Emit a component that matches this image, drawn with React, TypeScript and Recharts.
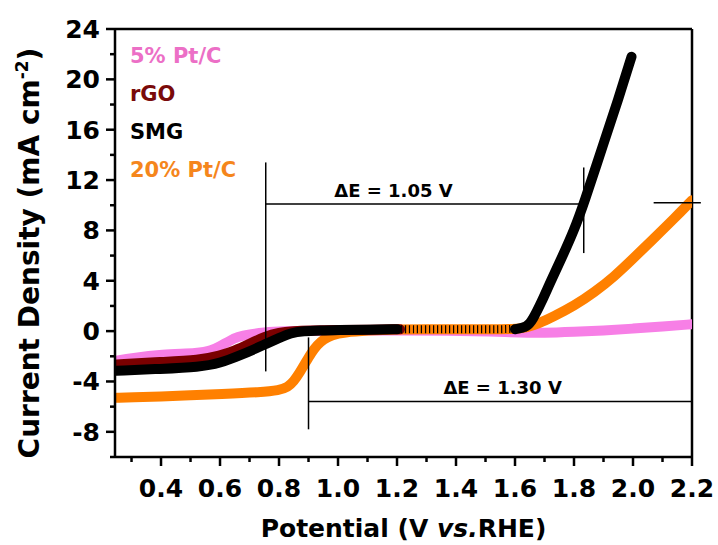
import { LineChart, Line, XAxis, YAxis, ReferenceLine, ReferenceDot } from "recharts";

// potential (V vs. RHE) and current density (mA cm-2)
const pinkV = [0.25, 0.3, 0.4, 0.53, 0.57, 0.6, 0.63, 0.66, 0.7, 0.75, 0.8, 1.0, 1.4, 1.6, 1.7, 1.8, 1.9, 2.0, 2.1, 2.2];
const pinkJ = [-2.35, -2.15, -1.85, -1.75, -1.55, -1.2, -0.8, -0.45, -0.25, -0.1, 0.0, 0.05, 0.05, -0.1, -0.15, -0.05, 0.05, 0.2, 0.35, 0.55];

const rgoV = [0.25, 0.4, 0.53, 0.6, 0.65, 0.7, 0.75, 0.8, 0.85, 0.9, 1.0, 1.1, 1.21];
const rgoJ = [-2.65, -2.45, -2.3, -1.95, -1.55, -1.0, -0.45, -0.1, 0.0, 0.05, 0.1, 0.1, 0.15];

const smgV = [0.25, 0.4, 0.53, 0.6, 0.67, 0.72, 0.757, 0.8, 0.84, 0.88, 0.95, 1.0, 1.1, 1.2, 1.3, 1.4, 1.5, 1.6, 1.64, 1.66, 1.69, 1.72, 1.76, 1.8, 1.833, 1.9, 1.95, 1.995];
const smgJ = [-3.15, -3.0, -2.85, -2.55, -1.9, -1.4, -1.0, -0.55, -0.15, 0.0, 0.05, 0.1, 0.1, 0.15, 0.15, 0.15, 0.15, 0.15, 0.3, 0.9, 2.3, 3.9, 5.9, 8.0, 10.1, 14.9, 18.4, 21.8];

const ptcV = [0.25, 0.3, 0.4, 0.5, 0.6, 0.74, 0.8, 0.83, 0.85, 0.87, 0.89, 0.91, 0.93, 0.95, 0.98, 1.02, 1.1, 1.2, 1.3, 1.4, 1.5, 1.6, 1.64, 1.68, 1.73, 1.8, 1.87, 1.935, 2.0, 2.07, 2.14, 2.2];
const ptcJ = [-5.3, -5.25, -5.2, -5.1, -5.0, -4.85, -4.7, -4.45, -4.0, -3.3, -2.5, -1.7, -1.1, -0.65, -0.3, -0.1, 0.05, 0.15, 0.15, 0.15, 0.15, 0.15, 0.3, 0.6, 1.15, 2.0, 3.1, 4.3, 5.75, 7.35, 8.95, 10.4];

const xMajor = [0.4, 0.6, 0.8, 1.0, 1.2, 1.4, 1.6, 1.8, 2.0, 2.2];
const xMinor = [0.3, 0.5, 0.7, 0.9, 1.1, 1.3, 1.5, 1.7, 1.9, 2.1];
const yMajor = [-8, -4, 0, 4, 8, 12, 16, 20, 24];
const yMinor = [-10, -6, -2, 2, 6, 10, 14, 18, 22];

const legendNames = ["5% Pt/C", "rGO", "SMG", "20% Pt/C"];
const legendColors = ["#ec6fc6", "#7a0a0a", "#000000", "#f5861c"];

// ΔE markers: onset (SMG) -> 10 mA cm-2, half-wave (Pt/C) -> 2.2 V
const dE1 = { label: "\u0394E = 1.05 V", x1: 0.755, x2: 1.833, y: 10.1, top1: 13.4, bot1: -3.2, top2: 13.0, bot2: 6.2, textX: 1.188 };
const dE2 = { label: "\u0394E = 1.30 V", x1: 0.9, x2: 2.2, y: -5.6, top1: -0.5, bot1: -7.8, textX: 1.558 };
const ptcMark = { x1: 2.07, x2: 2.23, y: 10.2 };

const FONT = '"DejaVu Sans", Verdana, sans-serif';

const toRows = (v: number[], j: number[]) => v.map((x, i) => ({ x, y: j[i] }));
const smgRows = toRows(smgV, smgJ);

const isMajorX = (v: number) => xMajor.some((m) => Math.abs(m - v) < 1e-6);

const XTick = ({ x, y, payload }: any) => {
  const major = isMajorX(payload.value);
  return (
    <g>
      <line x1={x} x2={x} y1={y} y2={y + (major ? 9 : 5)} stroke="#000" strokeWidth={2.5} />
      {major && (
        <text x={x} y={y + 40} textAnchor="middle" fontFamily={FONT} fontWeight="bold" fontSize={25} fill="#000">
          {payload.value.toFixed(1)}
        </text>
      )}
    </g>
  );
};

const YTick = ({ x, y, payload }: any) => {
  const major = yMajor.includes(payload.value);
  return (
    <g>
      <line x1={x} x2={x - (major ? 9 : 5)} y1={y} y2={y} stroke="#000" strokeWidth={2.5} />
      {major && (
        <text x={x - 15} y={y + 9} textAnchor="end" fontFamily={FONT} fontWeight="bold" fontSize={25} fill="#000">
          {payload.value}
        </text>
      )}
    </g>
  );
};

const XLabel = ({ viewBox }: any) => (
  <text x={viewBox.x + viewBox.width / 2} y={viewBox.y + 80} textAnchor="middle" fontFamily={FONT} fontWeight="bold" fontSize={25} fill="#000">
    Potential (V <tspan fontStyle="italic">vs.</tspan>RHE)
  </text>
);

const YLabel = ({ viewBox }: any) => {
  const cx = viewBox.x + 39;
  const cy = viewBox.y + viewBox.height / 2 + 10;
  return (
    <text x={cx} y={cy} transform={`rotate(-90 ${cx} ${cy})`} textAnchor="middle" fontFamily={FONT} fontWeight="bold" fontSize={28} fill="#000">
      Current Density (mA cm<tspan dy={-11} fontSize={17}>-2</tspan><tspan dy={11}>)</tspan>
    </text>
  );
};

const lineProps = { type: "basis" as const, dataKey: "y", dot: false, activeDot: false, isAnimationActive: false, strokeLinecap: "round" as any };
const annot = { stroke: "#000", strokeWidth: 1.5, ifOverflow: "visible" as const };
const annotText = { fontFamily: FONT, fontWeight: "bold", fontSize: 18, fill: "#000" };

export default function App() {
  return (
    <div style={{ position: "absolute", left: 0, top: 0, width: 718, height: 545, background: "#fff" }}>
      <LineChart width={718} height={545} margin={{ top: 29, right: 26, bottom: 0, left: 0 }}>
        <XAxis
          type="number"
          dataKey="x"
          domain={[0.244, 2.2]}
          allowDataOverflow
          ticks={[...xMinor, ...xMajor].sort((a, b) => a - b)}
          interval={0}
          tickSize={0}
          tickMargin={0}
          tickLine={false}
          axisLine={{ stroke: "#000", strokeWidth: 2.5 }}
          tick={<XTick />}
          height={88}
          label={{ content: <XLabel /> }}
        />
        <YAxis
          type="number"
          domain={[-10, 24]}
          allowDataOverflow
          ticks={[...yMinor, ...yMajor].sort((a, b) => a - b)}
          interval={0}
          tickSize={0}
          tickMargin={0}
          tickLine={false}
          axisLine={{ stroke: "#000", strokeWidth: 2.5 }}
          tick={<YTick />}
          width={115}
          label={{ content: <YLabel /> }}
        />
        <ReferenceLine y={24} stroke="#000" strokeWidth={2.5} />
        <ReferenceLine x={2.2} stroke="#000" strokeWidth={2.5} />

        <Line {...lineProps} data={toRows(pinkV, pinkJ)} stroke="#f77fe6" strokeWidth={10} />
        <Line {...lineProps} data={toRows(ptcV, ptcJ)} stroke="#ff8000" strokeWidth={10} />
        <Line {...lineProps} data={toRows(rgoV, rgoJ)} stroke="#7a0000" strokeWidth={10} />
        <Line {...lineProps} data={smgRows.filter((p) => p.x <= 1.2)} stroke="#000" strokeWidth={10} />
        <Line {...lineProps} data={smgRows.filter((p) => p.x >= 1.2 && p.x <= 1.64)} stroke="#000" strokeWidth={8} strokeLinecap="butt" strokeDasharray="1.2 2.8" />
        <Line {...lineProps} data={smgRows.filter((p) => p.x >= 1.6)} stroke="#000" strokeWidth={10} />

        <ReferenceLine {...annot} segment={[{ x: dE1.x1, y: dE1.top1 }, { x: dE1.x1, y: dE1.bot1 }]} />
        <ReferenceLine {...annot} segment={[{ x: dE1.x1, y: dE1.y }, { x: dE1.x2, y: dE1.y }]} />
        <ReferenceLine {...annot} segment={[{ x: dE1.x2, y: dE1.top2 }, { x: dE1.x2, y: dE1.bot2 }]} />
        <ReferenceLine {...annot} segment={[{ x: dE2.x1, y: dE2.top1 }, { x: dE2.x1, y: dE2.bot1 }]} />
        <ReferenceLine {...annot} segment={[{ x: dE2.x1, y: dE2.y }, { x: dE2.x2, y: dE2.y }]} />
        <ReferenceLine {...annot} segment={[{ x: ptcMark.x1, y: ptcMark.y }, { x: ptcMark.x2, y: ptcMark.y }]} />
        <ReferenceDot x={dE1.textX} y={dE1.y} r={0} stroke="none" label={{ value: dE1.label, position: "top", offset: 7, ...annotText }} />
        <ReferenceDot x={dE2.textX} y={dE2.y} r={0} stroke="none" label={{ value: dE2.label, position: "top", offset: 8, ...annotText }} />
      </LineChart>
      <svg width={718} height={545} style={{ position: "absolute", left: 0, top: 0, pointerEvents: "none" }}>
        {legendNames.map((name, i) => (
          <text key={name} x={130} y={63 + i * 38} fontFamily={FONT} fontWeight="bold" fontSize={21} fill={legendColors[i]}>
            {name}
          </text>
        ))}
      </svg>
    </div>
  );
}
